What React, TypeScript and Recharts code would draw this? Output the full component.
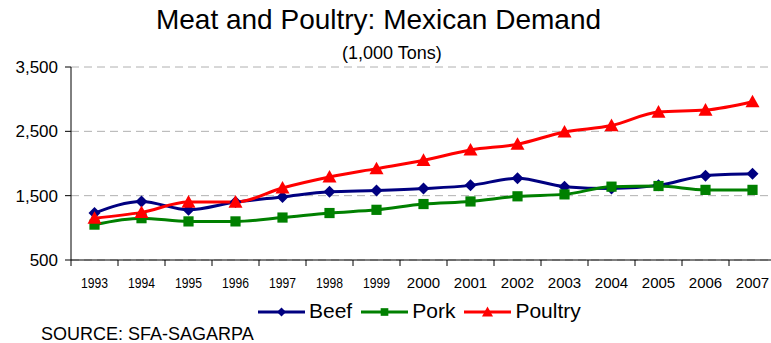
import React from 'react';
import { LineChart, Line, XAxis, YAxis, CartesianGrid, Legend } from 'recharts';

const years = [1993, 1994, 1995, 1996, 1997, 1998, 1999, 2000, 2001, 2002, 2003, 2004, 2005, 2006, 2007];
const beef = [1230, 1410, 1280, 1400, 1480, 1560, 1580, 1610, 1660, 1770, 1640, 1610, 1660, 1810, 1840];
const pork = [1050, 1150, 1100, 1100, 1160, 1230, 1280, 1370, 1410, 1490, 1520, 1640, 1650, 1590, 1590];
const poultry = [1150, 1240, 1400, 1400, 1620, 1790, 1920, 2050, 2210, 2300, 2490, 2590, 2800, 2830, 2960];
const yTicks = [500, 1500, 2500, 3500];
const yearBounds = [1992.5, 1993.5, 1994.5, 1995.5, 1996.5, 1997.5, 1998.5, 1999.5, 2000.5, 2001.5, 2002.5, 2003.5, 2004.5, 2005.5, 2006.5, 2007.5];

const data = years.map((year, i) => ({ year, Beef: beef[i], Pork: pork[i], Poultry: poultry[i] }));

const series = [
  { key: 'Beef', color: '#000080', shape: 'diamond' },
  { key: 'Pork', color: '#008000', shape: 'square' },
  { key: 'Poultry', color: '#ff0000', shape: 'triangle' },
];

const sans = '"Liberation Sans", Arial, sans-serif';

const Marker = ({ shape, cx, cy, color, size }: { shape: string; cx: number; cy: number; color: string; size: number }) => {
  const h = size / 2;
  if (shape === 'diamond') {
    return <polygon points={`${cx},${cy - h} ${cx + h},${cy} ${cx},${cy + h} ${cx - h},${cy}`} fill={color} />;
  }
  if (shape === 'square') {
    const s = h * 0.85;
    return <rect x={cx - s} y={cy - s} width={s * 2} height={s * 2} fill={color} />;
  }
  return <polygon points={`${cx},${cy - h} ${cx + h},${cy + h * 0.8} ${cx - h},${cy + h * 0.8}`} fill={color} />;
};

const makeDot = (shape: string, color: string) => (props: any) => {
  const { cx, cy, index } = props;
  if (cx == null || cy == null) return <g key={index} />;
  return (
    <g key={`${shape}-${index}`}>
      <Marker shape={shape} cx={cx} cy={cy} color={color} size={shape === 'triangle' ? 14 : 12} />
    </g>
  );
};

// half-year values draw the tick marks between categories, whole years draw the labels
const YearTick = (props: any) => {
  const { x, y, payload } = props;
  const v = payload.value;
  if (v % 1 !== 0) {
    return <line x1={x} x2={x} y1={y} y2={y + 6} stroke="#000" />;
  }
  return (
    <g transform={`translate(${x},${y + 17}) scale(${v < 2000 ? 0.81 : 1},1)`}>
      <text x={0} y={0} dy="0.71em" textAnchor="middle" fontFamily={sans} fontSize={15} fill="#000">
        {v}
      </text>
    </g>
  );
};

const renderLegend = (props: any) => {
  const { payload } = props;
  return (
    <div style={{ display: 'flex', alignItems: 'center', height: 24 }}>
      {payload.map((entry: any) => {
        const s = series.find(x => x.key === entry.value);
        return (
          <div key={entry.value} style={{ display: 'flex', alignItems: 'center', marginRight: 9 }}>
            <svg width={47} height={24} style={{ display: 'block' }}>
              <line x1={0} y1={13} x2={47} y2={13} stroke={entry.color} strokeWidth={3} />
              <Marker shape={s ? s.shape : 'diamond'} cx={23.5} cy={13} color={entry.color} size={s && s.shape === 'triangle' ? 11 : 9} />
            </svg>
            <span style={{ fontFamily: sans, fontSize: 21, lineHeight: '24px', color: '#000', marginLeft: 4 }}>{entry.value}</span>
          </div>
        );
      })}
    </div>
  );
};

export default function App() {
  return (
    <div style={{ position: 'absolute', left: 0, top: 0, width: 771, height: 343, background: '#fff', overflow: 'hidden' }}>
      <div style={{ position: 'absolute', left: 0, width: 757, top: 2, textAlign: 'center', fontFamily: sans, fontSize: 28, lineHeight: '36px', color: '#000' }}>
        Meat and Poultry: Mexican Demand
      </div>
      <div style={{ position: 'absolute', left: 342, top: 42, fontFamily: sans, fontSize: 18, lineHeight: '22px', color: '#000' }}>
        (1,000 Tons)
      </div>
      <LineChart width={776} height={343} data={data} margin={{ top: 67, right: 0, left: 0, bottom: 21 }}>
        <CartesianGrid vertical={false} stroke="#b0b0b0" strokeDasharray="8 5" />
        <XAxis
          dataKey="year"
          type="number"
          domain={[1992.5, 2007.5]}
          ticks={[...yearBounds, ...years].sort((a, b) => a - b)}
          interval={0}
          tickLine={false}
          tickSize={0}
          tickMargin={0}
          axisLine={{ stroke: '#000' }}
          height={38}
          tick={<YearTick />}
        />
        <YAxis
          domain={[500, 3500]}
          ticks={yTicks}
          interval={0}
          width={71}
          tickSize={6}
          tickMargin={7}
          axisLine={{ stroke: '#000' }}
          tickLine={{ stroke: '#000' }}
          tickFormatter={(v: number) => v.toLocaleString('en-US')}
          tick={{ fontFamily: sans, fontSize: 17, fill: '#000' }}
        />
        {series.map(s => (
          <Line
            key={s.key}
            dataKey={s.key}
            type="monotone"
            stroke={s.color}
            strokeWidth={3}
            dot={makeDot(s.shape, s.color)}
            activeDot={false}
            isAnimationActive={false}
          />
        ))}
        <Legend
          verticalAlign="bottom"
          content={renderLegend}
          wrapperStyle={{ left: 258, bottom: 20, width: 340, height: 24 }}
        />
      </LineChart>
      <div style={{ position: 'absolute', left: 41, top: 324, fontFamily: sans, fontSize: 18, lineHeight: '20px', color: '#000', whiteSpace: 'nowrap' }}>
        SOURCE: SFA-SAGARPA
      </div>
    </div>
  );
}
